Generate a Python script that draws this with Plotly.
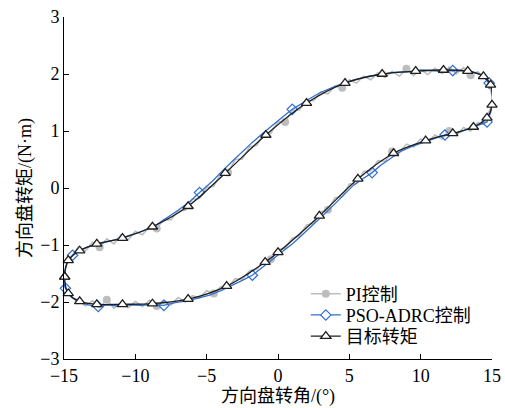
import plotly.graph_objects as go

# ---- data ----
# Target torque (triangles), closed hysteresis loop
target_x = [-14.95, -14.7, -13.9, -12.7, -10.9, -8.8, -6.3, -3.6, -0.9, 0.0, 2.9, 5.6, 8.1, 10.35,
            12.25, 13.7, 14.65, 15.0, 14.9, 14.4, 13.3, 11.6, 9.65, 7.3, 4.7, 2.0, -0.85, -3.7,
            -6.3, -8.8, -10.9, -12.7, -13.9, -14.7, -14.95]
target_y = [-1.56, -1.85, -1.99, -2.04, -2.04, -2.03, -1.95, -1.72, -1.30, -1.13, -0.49, 0.16, 0.61, 0.83,
            0.96, 1.07, 1.23, 1.46, 1.81, 1.96, 2.05, 2.07, 2.05, 2.00, 1.84, 1.49, 0.93, 0.26,
            -0.32, -0.68, -0.88, -0.98, -1.10, -1.27, -1.56]

# PI control (gray, noisy)
pi_x = [-15.0, -14.8, -14.5, -14.0, -13.5, -13.0, -12.5, -12.0, -11.5, -11.0, -10.5, -10.0, -9.5, -9.0,
        -8.5, -8.0, -7.5, -7.0, -6.5, -6.0, -5.5, -5.0, -4.5, -4.0, -3.5, -3.0, -2.5, -2.0, -1.5, -1.0,
        -0.5, 0.0, 0.5, 1.0, 1.5, 2.0, 2.5, 3.0, 3.5, 4.0, 4.5, 5.0, 5.5, 6.0, 6.5, 7.0, 7.5, 8.0,
        8.5, 9.0, 9.5, 10.0, 10.5, 11.0, 11.5, 12.0, 12.5, 13.0, 13.5, 14.0, 14.4, 14.7, 15.0,
        15.0, 14.8, 14.5, 14.0, 13.5, 13.0, 12.5, 12.0, 11.5, 11.0, 10.5, 10.0, 9.5, 9.0, 8.5, 8.0,
        7.5, 7.0, 6.5, 6.0, 5.5, 5.0, 4.5, 4.0, 3.5, 3.0, 2.5, 2.0, 1.5, 1.0, 0.5, 0.0, -0.5, -1.0,
        -1.5, -2.0, -2.5, -3.0, -3.5, -4.0, -4.5, -5.0, -5.5, -6.0, -6.5, -7.0, -7.5, -8.0, -8.5,
        -9.0, -9.5, -10.0, -10.5, -11.0, -11.5, -12.0, -12.5, -13.0, -13.5, -14.0, -14.4, -14.7,
        -15.0, -15.0]
pi_y = [-1.62, -1.80, -1.92, -1.96, -2.07, -1.98, -2.10, -1.96, -2.11, -2.01, -2.10, -1.99, -2.08, -1.97,
        -2.07, -1.97, -2.05, -1.92, -2.00, -1.89, -1.93, -1.80, -1.85, -1.73, -1.74, -1.59, -1.60,
        -1.45, -1.43, -1.28, -1.25, -1.08, -1.06, -0.88, -0.84, -0.65, -0.62, -0.42, -0.38, -0.17,
        -0.15, 0.07, 0.08, 0.29, 0.30, 0.48, 0.47, 0.64, 0.62, 0.77, 0.72, 0.86, 0.80, 0.93, 0.86,
        1.00, 0.92, 1.06, 1.00, 1.15, 1.12, 1.28, 1.45,
        1.62, 1.82, 1.94, 2.04, 1.98, 2.11, 2.00, 2.12, 2.01, 2.10, 1.99, 2.08, 1.97, 2.09, 1.96,
        2.05, 1.94, 2.02, 1.90, 1.96, 1.84, 1.90, 1.76, 1.79, 1.65, 1.68, 1.53, 1.53, 1.37, 1.36,
        1.16, 1.16, 0.96, 0.94, 0.75, 0.72, 0.51, 0.50, 0.27, 0.26, 0.03, 0.01, -0.18, -0.20,
        -0.39, -0.40, -0.56, -0.55, -0.71, -0.68, -0.82, -0.76, -0.91, -0.82, -0.98, -0.89, -1.04,
        -0.95, -1.11, -1.03, -1.17, -1.25, -1.50, -1.62]
pi_marker_idx = [7, 14, 22, 30, 38, 47, 55, 67, 76, 85, 93, 101, 111, 119]

# PSO-ADRC control (blue)
adrc_x = [-15.0, -14.9, -14.4, -14.0, -13.3, -12.6, -12.0, -11.2, -10.4, -9.6, -8.8, -8.0, -7.2, -6.4,
          -5.6, -4.8, -4.0, -3.2, -2.5, -1.8, -1.0, -0.3, 0.4, 1.1, 1.8, 2.5, 3.2, 3.9, 4.6, 5.3,
          6.0, 6.6, 7.2, 7.9, 8.6, 9.3, 10.0, 10.8, 11.7, 12.5, 13.3, 14.0, 14.65, 14.95, 15.05,
          14.95, 14.8, 14.3, 13.5, 12.25, 11.2, 10.2, 9.2, 8.2, 7.2, 6.3, 5.4, 4.6, 3.8, 3.0, 2.3,
          1.6, 1.0, 0.3, -0.4, -1.1, -1.8, -2.5, -3.2, -3.9, -4.6, -5.5, -6.2, -7.0, -7.8, -8.6,
          -9.4, -10.2, -11.0, -11.8, -12.6, -13.4, -14.0, -14.4, -14.8, -15.0, -15.0]
adrc_y = [-1.68, -1.76, -1.93, -2.00, -2.05, -2.08, -2.05, -2.07, -2.05, -2.06, -2.04, -2.06, -2.01,
          -1.98, -1.93, -1.88, -1.80, -1.71, -1.62, -1.53, -1.37, -1.24, -1.10, -0.96, -0.80, -0.64,
          -0.47, -0.30, -0.13, 0.05, 0.17, 0.27, 0.40, 0.52, 0.64, 0.72, 0.78, 0.85, 0.93, 0.96,
          1.03, 1.09, 1.16, 1.36, 1.58,
          1.76, 1.84, 1.98, 2.05, 2.06, 2.05, 2.07, 2.04, 2.03, 2.00, 1.96, 1.90, 1.84, 1.76, 1.68,
          1.58, 1.47, 1.38, 1.24, 1.10, 0.95, 0.80, 0.64, 0.47, 0.30, 0.12, -0.08, -0.24, -0.39,
          -0.53, -0.66, -0.75, -0.82, -0.88, -0.93, -0.98, -1.04, -1.10, -1.18, -1.33, -1.52, -1.68]
adrc_marker_idx = [1, 5, 11, 19, 31, 38, 42, 46, 49, 62, 71, 83]

x_ticks = [-15, -10, -5, 0, 5, 10, 15]
y_ticks = [-3, -2, -1, 0, 1, 2, 3]

names = ["PI控制", "PSO-ADRC控制", "目标转矩"]

GRAY = "#bdbdbd"
BLUE = "#2f6fce"
BLACK = "#1e1e1e"
FONT = "Liberation Serif, Noto Sans CJK SC, serif"

fig = go.Figure()

# PI line + markers
fig.add_trace(go.Scatter(x=pi_x, y=pi_y, mode="lines", line=dict(color=GRAY, width=1.6),
                         showlegend=False, hoverinfo="skip"))
fig.add_trace(go.Scatter(x=[pi_x[i] for i in pi_marker_idx], y=[pi_y[i] for i in pi_marker_idx],
                         mode="markers", marker=dict(symbol="circle", size=8, color=GRAY),
                         showlegend=False, cliponaxis=False))
# PSO-ADRC line + markers
fig.add_trace(go.Scatter(x=adrc_x, y=adrc_y, mode="lines", line=dict(color=BLUE, width=1.3),
                         showlegend=False))
fig.add_trace(go.Scatter(x=[adrc_x[i] for i in adrc_marker_idx], y=[adrc_y[i] for i in adrc_marker_idx],
                         mode="markers",
                         marker=dict(symbol="diamond-open", size=8, color=BLUE, line=dict(width=1.2)),
                         showlegend=False, cliponaxis=False))
# Target
fig.add_trace(go.Scatter(x=target_x, y=target_y, mode="lines+markers",
                         line=dict(color=BLACK, width=1.3, shape="spline", smoothing=1.0),
                         marker=dict(symbol="triangle-up", size=9, color="white",
                                     line=dict(color=BLACK, width=1.3)),
                         showlegend=False, cliponaxis=False))

# legend entries (one legend per row for exact placement)
fig.add_trace(go.Scatter(x=[None], y=[None], mode="lines+markers", name=names[0], legend="legend",
                         line=dict(color=GRAY, width=1.6), marker=dict(symbol="circle", size=8, color=GRAY)))
fig.add_trace(go.Scatter(x=[None], y=[None], mode="lines+markers", name=names[1], legend="legend2",
                         line=dict(color=BLUE, width=1.3),
                         marker=dict(symbol="diamond", size=8, color="white", line=dict(color=BLUE, width=1.2))))
fig.add_trace(go.Scatter(x=[None], y=[None], mode="lines+markers", name=names[2], legend="legend3",
                         line=dict(color=BLACK, width=1.3),
                         marker=dict(symbol="triangle-up", size=9, color="white", line=dict(color=BLACK, width=1.3))))

axis_common = dict(showline=True, linecolor="black", linewidth=1, ticks="inside", ticklen=5,
                   tickwidth=1, tickcolor="black", showgrid=False, zeroline=False, mirror=False,
                   automargin=False,
                   tickfont=dict(family=FONT, size=18, color="black"))

leg_common = dict(x=0.565, xanchor="left", yanchor="middle", bgcolor="rgba(0,0,0,0)",
                  font=dict(family=FONT, size=18, color="black"), itemwidth=30)

fig.update_layout(
    width=505, height=408,
    margin=dict(l=64, r=13, t=17, b=49),
    paper_bgcolor="white", plot_bgcolor="white",
    font=dict(family=FONT, color="black"),
    xaxis=dict(range=[-15, 15], tickvals=x_ticks,
               title=dict(text="方向盘转角/(°)", font=dict(family=FONT, size=18), standoff=0),
               **axis_common),
    yaxis=dict(range=[-3, 3], tickvals=y_ticks,
               title=dict(text="方向盘转矩/(N·m)", font=dict(family=FONT, size=18), standoff=3),
               **axis_common),
    legend=dict(y=0.190, **leg_common),
    legend2=dict(y=0.128, **leg_common),
    legend3=dict(y=0.066, **leg_common),
    showlegend=True,
)

fig.write_html("out.html", config={"displayModeBar": False},
               post_script="document.body.style.margin='0';document.body.style.overflow='hidden';")
